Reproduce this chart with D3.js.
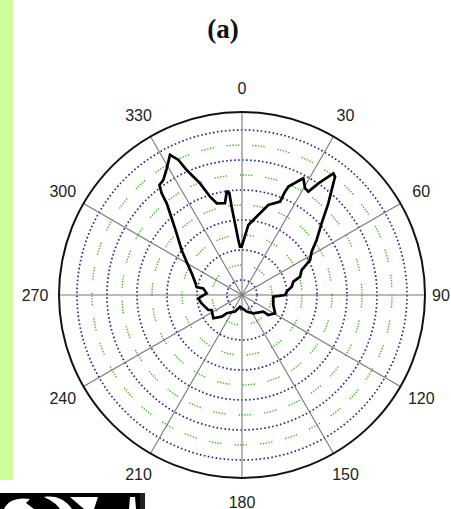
<!DOCTYPE html>
<html>
<head>
<meta charset="utf-8">
<script src="https://cdn.jsdelivr.net/npm/d3@7"></script>
<style>
html,body{margin:0;padding:0;background:#fff;}
svg{display:block;}
</style>
</head>
<body>
<svg id="chart" width="451" height="509"></svg>
<script>
// ---- data ----
const titleText = "(a)";
const spokeAngles = [0,30,60,90,120,150,180,210,240,270,300,330];
const spokeLabels = ["0","30","60","90","120","150","180","210","240","270","300","330"];
const majorRings = [1,3,5,7,9,11];
const minorRings = [2,4,6,8,10];
const radialMax = 12.2;
const curveAngles = [5.2,11.5,16.3,22.2,22.6,23.2,26.8,27.7,30.6,32.7,34.4,36.9,38.2,40.5,43.3,48,53.6,58.1,62.8,67.3,72.5,75.4,80.5,85.7,90,93,107.7,119,127.2,128,148.3,164,189.7,202.8,219.9,223.2,230.9,243.7,246,258.3,265.6,272.7,279.6,279.9,285.8,293.3,301,306.7,313.3,317.5,320.6,321.7,323.1,325.6,329.3,332.8,334.8,336.1,339.4,342,344.6,349.5,351.6,352.9,353.3,354.4,356.2,357.6,359.6];
const curveValues = [4.69,5.44,6.25,6.72,7.46,7.86,8.59,8.79,8.26,8.19,9.02,10.14,10.03,9.2,8.39,7.14,6.18,5.47,5.1,4.31,4.06,3.54,3.36,2.99,2.87,2.09,2.19,2.52,2.2,1.8,1.44,1.15,0.79,1.2,1.59,1.98,2.46,2.26,2.46,2.75,2.92,2.36,2.62,3.07,3.26,3.65,4.31,5.02,5.99,6.94,7.91,8.64,9.17,9.29,9.82,10.5,9.95,9.11,7.95,6.89,6.34,6.22,6.96,6.87,5.93,4.8,3.67,3.23,3.22];

// ---- layout ----
const svg = d3.select("#chart");
const cx = 242, cy = 295, R = 183;
const r = d3.scaleLinear().domain([0, radialMax]).range([0, R]);
const toRad = d => d * Math.PI / 180;

// page decorations
svg.append("rect").attr("x",0).attr("y",0).attr("width",13).attr("height",480).attr("fill","#ccff99");
svg.append("text").attr("x",223).attr("y",38).attr("text-anchor","middle")
  .attr("font-family","Liberation Serif, Times New Roman, serif").attr("font-weight","bold")
  .attr("font-size",27).attr("fill","#111").text(titleText);

// bottom-left image fragment
const frag = svg.append("g");
frag.append("rect").attr("x",0).attr("y",493).attr("width",145).attr("height",16).attr("fill","#000");
frag.append("path").attr("d","M4,509 C8,500 18,497 30,499 L26,503 L34,509 Z").attr("fill","#fff");
frag.append("path").attr("d","M44,497 C56,495 66,500 72,509 L60,509 C56,503 50,500 44,497 Z").attr("fill","#fff");
frag.append("path").attr("d","M70,497 L98,497 L94,509 L84,509 Z").attr("fill","#fff");
frag.append("path").attr("d","M130,497 L135,497 L136,509 L129,509 Z").attr("fill","#fff");
frag.append("rect").attr("x",140).attr("y",493).attr("width",5).attr("height",16).attr("fill","#222");

const g = svg.append("g").attr("transform", `translate(${cx},${cy})`);

// minor rings (green dotted, in short runs)
g.selectAll("circle.minor").data(minorRings).join("circle")
  .attr("class","minor").attr("r", d => r(d)).attr("fill","none")
  .attr("stroke","#44bb22").attr("stroke-width",1.4)
  .attr("stroke-dasharray","1.4 1.4 1.4 1.4 1.4 1.4 1.4 1.4 1.4 13");

// major rings (blue dotted)
g.selectAll("circle.major").data(majorRings).join("circle")
  .attr("class","major").attr("r", d => r(d)).attr("fill","none")
  .attr("stroke","#27278f").attr("stroke-width",1.7)
  .attr("stroke-dasharray","1.6 2.4");

// spokes
g.selectAll("line.spoke").data(spokeAngles).join("line")
  .attr("class","spoke")
  .attr("x1",0).attr("y1",0)
  .attr("x2", d => R * Math.sin(toRad(d)))
  .attr("y2", d => -R * Math.cos(toRad(d)))
  .attr("stroke","#777").attr("stroke-width",1.1);

// outer circle
g.append("circle").attr("r", R).attr("fill","none").attr("stroke","#111").attr("stroke-width",2);

// angle labels
g.selectAll("text.lab").data(spokeAngles).join("text")
  .attr("class","lab")
  .attr("x", d => d === 90 ? 190 : (R + 24) * Math.sin(toRad(d)))
  .attr("y", d => -(R + 24) * Math.cos(toRad(d)))
  .attr("text-anchor", d => d === 90 ? "start" : "middle")
  .attr("dominant-baseline","central")
  .attr("font-family","Liberation Sans, Arial, sans-serif").attr("font-size",16)
  .attr("fill","#222")
  .text((d,i) => spokeLabels[i]);

// data curve
const pts = curveAngles.map((a,i) => [toRad(a), r(curveValues[i])]);
const line = d3.lineRadial().angle(d => d[0]).radius(d => d[1]).curve(d3.curveLinearClosed);
g.append("path").attr("d", line(pts)).attr("fill","none")
  .attr("stroke","#000").attr("stroke-width",2.7).attr("stroke-linejoin","miter");
</script>
</body>
</html>
